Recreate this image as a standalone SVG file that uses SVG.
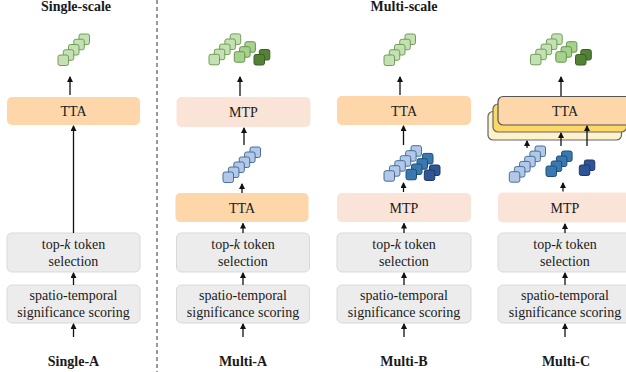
<svg xmlns="http://www.w3.org/2000/svg" width="626" height="372" viewBox="0 0 626 372">
<style>
text{fill:#1a1a1a;text-anchor:middle}
.t{font-size:14px}
.h{font-size:14px;font-weight:bold}
.g{fill:#ececec;stroke:#d9d9d9;stroke-width:1}
.tta{fill:#fdd6a9}
.mtp{fill:#fae4d8}
.gl{fill:#c5e0b4;stroke:#6f9e55;stroke-width:1}
.gm{fill:#a9d18e;stroke:#62954a;stroke-width:1}
.gd{fill:#548235;stroke:#3b5e24;stroke-width:1}
.bl{fill:#b4c7e7;stroke:#41719c;stroke-width:1}
.bm{fill:#3a78b0;stroke:#1f4e79;stroke-width:1}
.bd{fill:#2f5597;stroke:#203864;stroke-width:1}
.a{stroke:#111;stroke-width:1.3;fill:none;marker-end:url(#ah)}
</style>
<defs>
<marker id="ah" markerWidth="6" markerHeight="6" refX="5" refY="3" orient="auto" markerUnits="userSpaceOnUse">
<path d="M0,0 L6,3 L0,6 z" fill="#111"/>
</marker>
<rect id="sq" width="10.5" height="10.5" rx="2"/>
</defs>
<g font-family="Liberation Serif">
<text class="h" x="76" y="11" font-family="Liberation Serif">Single-scale</text>
<text class="h" x="404" y="11" font-family="Liberation Serif">Multi-scale</text>
<line x1="157" y1="0" x2="157" y2="372" stroke="#555" stroke-width="1.2" stroke-dasharray="4,3"/>

<!-- Single-A -->
<g id="singleA-tokens">
<use href="#sq" class="gl" x="79" y="34"/><use href="#sq" class="gl" x="73.75" y="39.25"/><use href="#sq" class="gl" x="68.5" y="44.5"/><use href="#sq" class="gl" x="63.25" y="49.75"/><use href="#sq" class="gl" x="58" y="55"/>
</g>
<g id="singleA-tta"><rect class="tta" x="7" y="97" width="133" height="28" rx="5"/><text class="t" x="73.5" y="116" font-family="Liberation Serif">TTA</text></g>
<g id="singleA-topk"><rect class="g" x="7" y="233" width="133" height="39" rx="5"/><text class="t" x="73.5" y="249" font-family="Liberation Serif">top-<tspan font-style="italic">k</tspan> token</text><text class="t" x="73.5" y="266" font-family="Liberation Serif">selection</text></g>
<g id="singleA-score"><rect class="g" x="7" y="285" width="133" height="38" rx="5"/><text class="t" x="73.5" y="300" font-family="Liberation Serif">spatio-temporal</text><text class="t" x="73.5" y="317" font-family="Liberation Serif">significance scoring</text></g>
<text class="h" x="73.5" y="366" font-family="Liberation Serif">Single-A</text>

<!-- Multi-A -->
<g id="multiA-out">
<use href="#sq" class="gl" x="230.2" y="33.9"/><use href="#sq" class="gl" x="224.9" y="39"/><use href="#sq" class="gl" x="219.6" y="44.1"/><use href="#sq" class="gl" x="214.3" y="49.2"/><use href="#sq" class="gl" x="209" y="54.3"/>
<use href="#sq" class="gm" x="244.9" y="41.7"/><use href="#sq" class="gm" x="239.6" y="46.7"/><use href="#sq" class="gm" x="234.3" y="51.7"/>
<use href="#sq" class="gd" x="259.3" y="49.5"/><use href="#sq" class="gd" x="254" y="54.5"/>
</g>
<g id="multiA-mtp"><rect class="mtp" x="176.5" y="97" width="134" height="30" rx="5"/><text class="t" x="243.5" y="117" font-family="Liberation Serif">MTP</text></g>
<g id="multiA-tokens">
<use href="#sq" class="bl" x="250" y="147"/><use href="#sq" class="bl" x="244.6" y="152"/><use href="#sq" class="bl" x="239.2" y="157"/><use href="#sq" class="bl" x="233.8" y="162"/><use href="#sq" class="bl" x="228.4" y="167"/><use href="#sq" class="bl" x="223" y="172"/>
</g>
<g id="multiA-tta"><rect class="tta" x="175.5" y="193" width="133" height="29" rx="5"/><text class="t" x="242" y="212.5" font-family="Liberation Serif">TTA</text></g>
<g id="multiA-topk"><rect class="g" x="176.5" y="233" width="133" height="39" rx="5"/><text class="t" x="243" y="249" font-family="Liberation Serif">top-<tspan font-style="italic">k</tspan> token</text><text class="t" x="243" y="266" font-family="Liberation Serif">selection</text></g>
<g id="multiA-score"><rect class="g" x="176.5" y="285" width="133" height="38" rx="5"/><text class="t" x="243" y="300" font-family="Liberation Serif">spatio-temporal</text><text class="t" x="243" y="317" font-family="Liberation Serif">significance scoring</text></g>
<text class="h" x="243" y="366" font-family="Liberation Serif">Multi-A</text>

<!-- Multi-B -->
<g id="multiB-out">
<use href="#sq" class="gl" x="405" y="34"/><use href="#sq" class="gl" x="399.75" y="39.25"/><use href="#sq" class="gl" x="394.5" y="44.5"/><use href="#sq" class="gl" x="389.25" y="49.75"/><use href="#sq" class="gl" x="384" y="55"/>
</g>
<g id="multiB-tta"><rect class="tta" x="337" y="96" width="134" height="29" rx="5"/><text class="t" x="404" y="115.5" font-family="Liberation Serif">TTA</text></g>
<g id="multiB-tokens">
<use href="#sq" class="bl" x="411" y="145.7"/><use href="#sq" class="bl" x="405.6" y="150.7"/><use href="#sq" class="bl" x="400.2" y="155.7"/><use href="#sq" class="bl" x="394.8" y="160.7"/><use href="#sq" class="bl" x="389.4" y="165.7"/><use href="#sq" class="bl" x="384" y="170.7"/>
<use href="#sq" class="bm" x="422.5" y="153.4"/><use href="#sq" class="bm" x="417" y="158.7"/><use href="#sq" class="bm" x="411.5" y="164"/><use href="#sq" class="bm" x="406" y="169.3"/>
<use href="#sq" class="bd" x="429.5" y="165"/><use href="#sq" class="bd" x="424.3" y="170"/>
</g>
<g id="multiB-mtp"><rect class="mtp" x="337" y="193" width="134" height="29" rx="5"/><text class="t" x="404" y="212.5" font-family="Liberation Serif">MTP</text></g>
<g id="multiB-topk"><rect class="g" x="337" y="233" width="134" height="39" rx="5"/><text class="t" x="404" y="249" font-family="Liberation Serif">top-<tspan font-style="italic">k</tspan> token</text><text class="t" x="404" y="266" font-family="Liberation Serif">selection</text></g>
<g id="multiB-score"><rect class="g" x="337" y="285" width="134" height="38" rx="5"/><text class="t" x="404" y="300" font-family="Liberation Serif">spatio-temporal</text><text class="t" x="404" y="317" font-family="Liberation Serif">significance scoring</text></g>
<text class="h" x="404" y="366" font-family="Liberation Serif">Multi-B</text>

<!-- Multi-C -->
<g id="multiC-out">
<use href="#sq" class="gl" x="551.7" y="33.9"/><use href="#sq" class="gl" x="546.4" y="39"/><use href="#sq" class="gl" x="541.1" y="44.1"/><use href="#sq" class="gl" x="535.8" y="49.2"/><use href="#sq" class="gl" x="530.5" y="54.3"/>
<use href="#sq" class="gm" x="566.4" y="41.7"/><use href="#sq" class="gm" x="561.1" y="46.7"/><use href="#sq" class="gm" x="555.8" y="51.7"/>
<use href="#sq" class="gd" x="580.8" y="49.5"/><use href="#sq" class="gd" x="575.5" y="54.5"/>
</g>
<g id="multiC-tta">
<rect x="488" y="111.5" width="133.5" height="28.5" rx="5" fill="#fdf2cc" stroke="#666" stroke-width="1.2"/>
<rect x="493" y="104" width="133.5" height="28" rx="5" fill="#fdd867" stroke="#666" stroke-width="1.2"/>
<rect x="498" y="96.5" width="134" height="28.5" rx="5" fill="#fdd6a9" stroke="#555" stroke-width="1.2"/>
<text class="t" x="565" y="115.5" font-family="Liberation Serif">TTA</text>
</g>
<g id="multiC-tokens">
<use href="#sq" class="bl" x="535" y="146"/><use href="#sq" class="bl" x="529.9" y="151.1"/><use href="#sq" class="bl" x="524.7" y="156.3"/><use href="#sq" class="bl" x="519.6" y="161.4"/><use href="#sq" class="bl" x="514.4" y="166.6"/><use href="#sq" class="bl" x="509.3" y="171.7"/>
<use href="#sq" class="bm" x="561.6" y="151"/><use href="#sq" class="bm" x="556.4" y="156"/><use href="#sq" class="bm" x="551.2" y="161"/><use href="#sq" class="bm" x="546" y="166"/>
<use href="#sq" class="bd" x="584.3" y="160"/><use href="#sq" class="bd" x="579.3" y="165"/>
</g>
<g id="multiC-mtp"><rect class="mtp" x="498" y="192.5" width="134" height="30" rx="5"/><text class="t" x="565" y="212.5" font-family="Liberation Serif">MTP</text></g>
<g id="multiC-topk"><rect class="g" x="498" y="233" width="134" height="39" rx="5"/><text class="t" x="565" y="249" font-family="Liberation Serif">top-<tspan font-style="italic">k</tspan> token</text><text class="t" x="565" y="266" font-family="Liberation Serif">selection</text></g>
<g id="multiC-score"><rect class="g" x="498" y="285" width="134" height="38" rx="5"/><text class="t" x="565" y="300" font-family="Liberation Serif">spatio-temporal</text><text class="t" x="565" y="317" font-family="Liberation Serif">significance scoring</text></g>
<text class="h" x="566" y="366" font-family="Liberation Serif">Multi-C</text>

<g id="connectors">
<line class="a" x1="70" y1="95" x2="70" y2="77"/>
<line class="a" x1="73.5" y1="233" x2="73.5" y2="126"/>
<line class="a" x1="73.5" y1="285" x2="73.5" y2="273"/>
<line class="a" x1="73.5" y1="337" x2="73.5" y2="324"/>

<line class="a" x1="240" y1="96" x2="240" y2="77"/>
<line class="a" x1="244" y1="145" x2="244" y2="128"/>
<line class="a" x1="242" y1="193" x2="242" y2="184"/>
<line class="a" x1="243" y1="233" x2="243" y2="223.5"/>
<line class="a" x1="243" y1="285" x2="243" y2="273"/>
<line class="a" x1="243" y1="337" x2="243" y2="324"/>

<line class="a" x1="400" y1="95" x2="400" y2="77"/>
<line class="a" x1="403.5" y1="145" x2="403.5" y2="126"/>
<line class="a" x1="403.5" y1="192" x2="403.5" y2="183"/>
<line class="a" x1="404" y1="233" x2="404" y2="223.5"/>
<line class="a" x1="404" y1="285" x2="404" y2="273"/>
<line class="a" x1="404" y1="337" x2="404" y2="324"/>

<line class="a" x1="561" y1="96" x2="561" y2="77"/>
<line class="a" x1="527" y1="148" x2="527" y2="141"/>
<line class="a" x1="561" y1="146" x2="561" y2="133"/>
<line class="a" x1="587" y1="146" x2="587" y2="126"/>
<line class="a" x1="563" y1="191.5" x2="563" y2="183"/>
<line class="a" x1="565" y1="233" x2="565" y2="224"/>
<line class="a" x1="565" y1="285" x2="565" y2="273"/>
<line class="a" x1="565" y1="337" x2="565" y2="324"/>
</g>
</g>
</svg>
